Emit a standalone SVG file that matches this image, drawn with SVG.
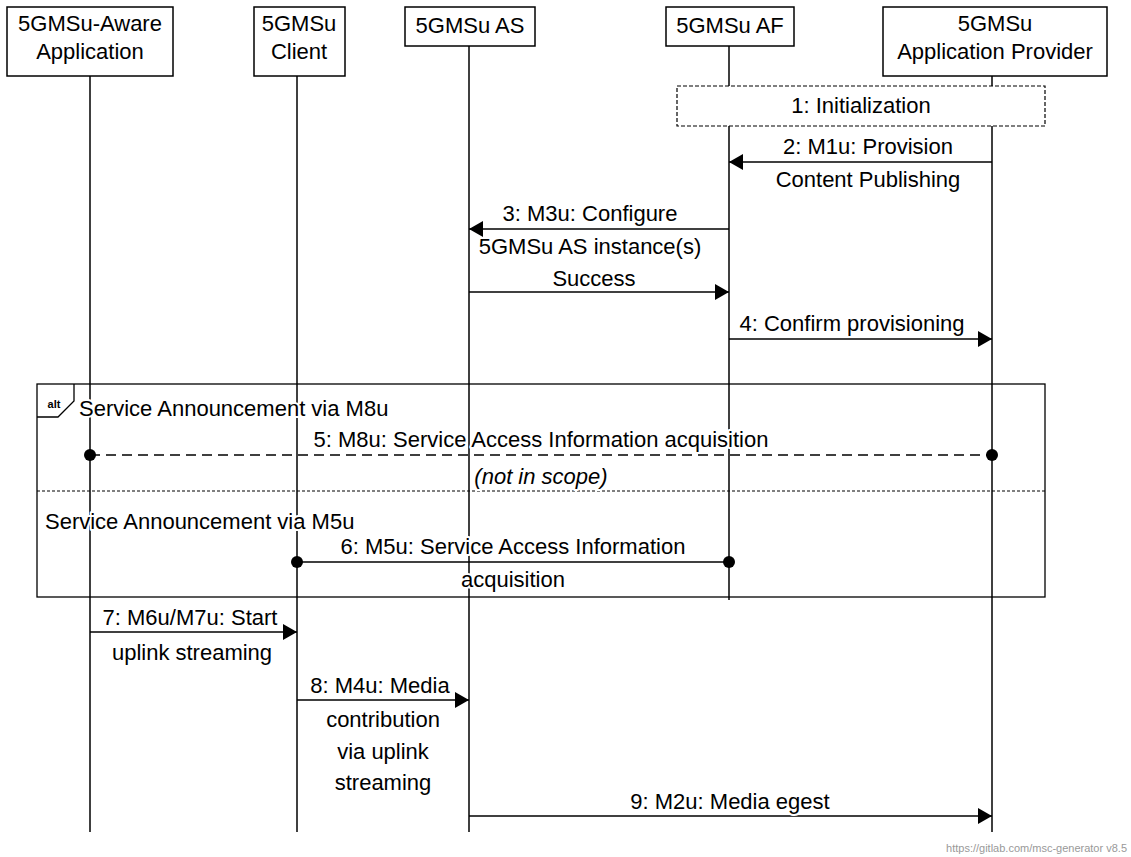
<svg xmlns="http://www.w3.org/2000/svg" width="1131" height="857" viewBox="0 0 1131 857">
<style>
text{font-family:"Liberation Sans",Arial,sans-serif;font-size:22px;fill:#000;text-anchor:middle}
.h{paint-order:stroke;stroke:#fff;stroke-width:4px;stroke-linejoin:round}
.box{fill:#fff;stroke:#000;stroke-width:1.5}
.life{stroke:#000;stroke-width:1.5;fill:none}
.msg{stroke:#000;stroke-width:1.3;fill:none}
.dash{stroke:#000;stroke-width:1.3;fill:none;stroke-dasharray:10 6}
.frame{fill:none;stroke:#000;stroke-width:1.3}
</style>
<defs>
<marker id="ah" viewBox="0 0 14 16" refX="14" refY="8" markerWidth="14" markerHeight="16" markerUnits="userSpaceOnUse" orient="auto"><path d="M0,0 L14,8 L0,16 Z" fill="#000"/></marker>
<marker id="dot" viewBox="0 0 12 12" refX="6" refY="6" markerWidth="12" markerHeight="12" markerUnits="userSpaceOnUse"><circle cx="6" cy="6" r="6" fill="#000"/></marker>
</defs>
<g id="lifelines">
<line class="life" x1="90" y1="76" x2="90" y2="832"/>
<line class="life" x1="297" y1="76" x2="297" y2="832"/>
<line class="life" x1="469" y1="46" x2="469" y2="832"/>
<line class="life" x1="729" y1="46" x2="729" y2="600"/>
<line class="life" x1="992" y1="76" x2="992" y2="832"/>
</g>
<g id="app"><rect class="box" x="7" y="7" width="166" height="69"/><text x="90" y="31">5GMSu-Aware</text><text x="90" y="59">Application</text></g>
<g id="client"><rect class="box" x="254" y="7" width="91" height="69"/><text x="299" y="31">5GMSu</text><text x="299" y="59">Client</text></g>
<g id="as"><rect class="box" x="405" y="7" width="130" height="39"/><text x="470" y="33">5GMSu AS</text></g>
<g id="af"><rect class="box" x="666" y="7" width="128" height="39"/><text x="730" y="33">5GMSu AF</text></g>
<g id="provider"><rect class="box" x="883" y="7" width="224" height="69"/><text x="995" y="31">5GMSu</text><text x="995" y="59">Application Provider</text></g>
<g id="init"><rect x="677" y="86" width="368" height="40" fill="#fff" stroke="#000" stroke-width="1.2" stroke-dasharray="4 2"/><text x="861" y="113">1: Initialization</text></g>
<g id="alt">
<rect class="frame" x="37" y="384" width="1008" height="213"/>
<path class="frame" d="M37,417 H58 L74,401 V384"/>
<text x="54" y="408" style="font-size:11px;font-weight:bold">alt</text>
<text class="h" x="79" y="416" style="text-anchor:start">Service Announcement via M8u</text>
<line x1="37" y1="491" x2="1045" y2="491" stroke="#000" stroke-width="1.2" stroke-dasharray="3 2"/>
<text class="h" x="45" y="529" style="text-anchor:start">Service Announcement via M5u</text>
</g>
<g id="connectors">
<line class="msg" x1="992" y1="162" x2="729" y2="162" marker-end="url(#ah)"/>
<text class="h" x="868" y="154">2: M1u: Provision</text>
<text class="h" x="868" y="187">Content Publishing</text>
<line class="msg" x1="729" y1="229" x2="469" y2="229" marker-end="url(#ah)"/>
<text class="h" x="590" y="221">3: M3u: Configure</text>
<text class="h" x="590" y="254">5GMSu AS instance(s)</text>
<text class="h" x="594" y="286">Success</text>
<line class="msg" x1="469" y1="292" x2="729" y2="292" marker-end="url(#ah)"/>
<text class="h" x="852" y="331">4: Confirm provisioning</text>
<line class="msg" x1="729" y1="339" x2="992" y2="339" marker-end="url(#ah)"/>
<line class="dash" x1="90" y1="455" x2="992" y2="455" marker-start="url(#dot)" marker-end="url(#dot)"/>
<text class="h" x="541" y="447">5: M8u: Service Access Information acquisition</text>
<text class="h" x="541" y="484" style="font-style:italic">(not in scope)</text>
<line class="msg" x1="297" y1="562" x2="729" y2="562" marker-start="url(#dot)" marker-end="url(#dot)"/>
<text class="h" x="513" y="554">6: M5u: Service Access Information</text>
<text class="h" x="513" y="587">acquisition</text>
<line class="msg" x1="90" y1="632" x2="297" y2="632" marker-end="url(#ah)"/>
<text class="h" x="190" y="625">7: M6u/M7u: Start</text>
<text class="h" x="192" y="660">uplink streaming</text>
<line class="msg" x1="297" y1="700" x2="469" y2="700" marker-end="url(#ah)"/>
<text class="h" x="380" y="693">8: M4u: Media</text>
<text class="h" x="383" y="727">contribution</text>
<text class="h" x="383" y="759">via uplink</text>
<text class="h" x="383" y="790">streaming</text>
<line class="msg" x1="469" y1="816" x2="992" y2="816" marker-end="url(#ah)"/>
<text class="h" x="730" y="809">9: M2u: Media egest</text>
</g>
<text x="1127" y="852" style="font-size:11px;fill:#999;text-anchor:end">https://gitlab.com/msc-generator v8.5</text>
</svg>
